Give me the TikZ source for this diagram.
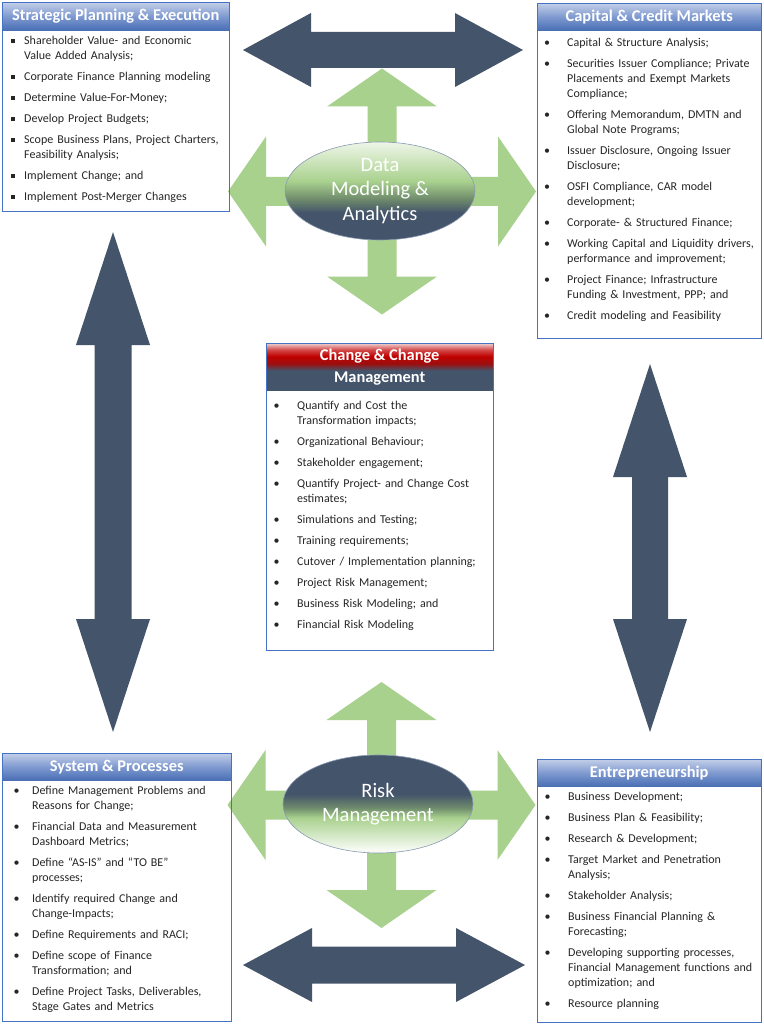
\documentclass[tikz,border=0pt]{standalone}
\usepackage{fontspec}
\setmainfont{Carlito}
\usetikzlibrary{shapes.geometric}
\definecolor{slate}{HTML}{44546A}
\definecolor{lgreen}{HTML}{A9D18E}
\definecolor{bborder}{HTML}{4472C4}
\definecolor{htop}{HTML}{C3CFE8}
\definecolor{hmid}{HTML}{7F9AD0}
\definecolor{hbot}{HTML}{4A6FB5}
\definecolor{txt}{HTML}{262626}
\definecolor{pinktop}{HTML}{F0D2D2}
\definecolor{cred}{HTML}{C00000}
\definecolor{credlt}{HTML}{D24848}
\definecolor{creddk}{HTML}{9A1010}
\definecolor{gtop}{HTML}{EEF6E8}
\definecolor{gbot}{HTML}{F6FAF2}
\definecolor{gmix}{HTML}{6F8C6C}
\definecolor{ellline}{HTML}{8A9AB2}
\pgfdeclareverticalshading{chgshade}{100bp}{color(0bp)=(slate); color(46bp)=(slate); color(53bp)=(creddk); color(61bp)=(cred); color(68bp)=(credlt); color(75bp)=(pinktop); color(100bp)=(pinktop)}
\pgfdeclareverticalshading{dmshade}{100bp}{color(0bp)=(slate); color(39bp)=(slate); color(46bp)=(gmix); color(55bp)=(lgreen); color(75bp)=(gtop); color(100bp)=(gtop)}
\pgfdeclareverticalshading{rmshade}{100bp}{color(0bp)=(gbot); color(27bp)=(gbot); color(43bp)=(lgreen); color(48bp)=(gmix); color(55bp)=(slate); color(100bp)=(slate)}
\newlength\bp
\newlength\ti
\newcommand\setind[2]{\setlength\bp{#1pt}\setlength\ti{#2pt}\parindent=0pt}
\newcommand\bul{\textbullet}
\newcommand\sqbul{\rule[1.8pt]{3.8pt}{3.8pt}}
\newcommand\nl{\hfil\break}
\newcommand\itmz[1]{\noindent\hangindent=\ti\hangafter=1\makebox[\ti][l]{\hspace*{\bp}\bul}\strut#1\par}
\newcommand\itm[1]{\vspace{6pt}\itmz{#1}}
\newcommand\hdbl[6]{%
\fill[darkarr] ({#1-#3},#2) -- ({#1-#3+#4},{#2-#5}) -- ({#1-#3+#4},{#2-#6}) -- ({#1+#3-#4},{#2-#6}) -- ({#1+#3-#4},{#2-#5}) -- ({#1+#3},#2) -- ({#1+#3-#4},{#2+#5}) -- ({#1+#3-#4},{#2+#6}) -- ({#1-#3+#4},{#2+#6}) -- ({#1-#3+#4},{#2+#5}) -- cycle;}
\newcommand\vdbl[6]{%
\fill[darkarr] (#1,{#2-#3}) -- ({#1+#5},{#2-#3+#4}) -- ({#1+#6},{#2-#3+#4}) -- ({#1+#6},{#2+#3-#4}) -- ({#1+#5},{#2+#3-#4}) -- (#1,{#2+#3}) -- ({#1-#5},{#2+#3-#4}) -- ({#1-#6},{#2+#3-#4}) -- ({#1-#6},{#2-#3+#4}) -- ({#1-#5},{#2-#3+#4}) -- cycle;}
\newcommand\crossarr[2]{%
\begin{scope}[shift={(#1,#2)}]
\fill[greenarr] (0,-123) -- (55,-85) -- (14.5,-85) -- (14.5,-14.5) -- (116,-14.5) -- (116,-55) -- (154,0) -- (116,55) -- (116,14.5) -- (14.5,14.5) -- (14.5,85) -- (55,85) -- (0,123) -- (-55,85) -- (-14.5,85) -- (-14.5,14.5) -- (-116,14.5) -- (-116,55) -- (-154,0) -- (-116,-55) -- (-116,-14.5) -- (-14.5,-14.5) -- (-14.5,-85) -- (-55,-85) -- cycle;
\end{scope}}
\begin{document}
\begin{tikzpicture}[x=1pt,y=-1pt,
  darkarr/.style={fill=slate},
  greenarr/.style={fill=lgreen},
  boxframe/.style={draw=bborder,line width=0.8pt,inner sep=0,anchor=north west},
  hdr/.style={top color=htop,bottom color=hbot,middle color=hmid,text=white,font=\bfseries\fontsize{16.4}{19}\selectfont,inner sep=0,anchor=north west},
  body/.style={anchor=north west,inner sep=0,text width=250pt,align=left,text=txt,font=\fontsize{12}{15}\selectfont},
  ell/.style={ellipse,shade,draw=ellline,line width=0.6pt,minimum width=190pt,minimum height=98pt,inner sep=0,text=white,align=center,font=\fontsize{20.5}{24.5}\selectfont}]
\useasboundingbox (0,0) rectangle (763,1024);
\fill[white] (0,0) rectangle (763,1024);
% block arrows
\hdbl{383}{50}{140}{68}{37}{18}
\hdbl{384}{965}{141}{69}{37}{18.5}
\vdbl{113}{482}{250}{113}{37}{18.5}
\vdbl{650}{548}{184}{113}{37}{18}
\crossarr{382}{191.5}
\crossarr{381.5}{805}
% ellipses
\node[ell,shading=dmshade] (dm) at (380,191) {Data\\Modeling \&\\Analytics};
\node[ell,shading=rmshade] (rm) at (378,804) {Risk\\Management};
% top-left
\node[hdr,minimum width=227pt,minimum height=28pt] (tlh) at (2,2) {Strategic Planning \& Execution};
\node[boxframe,minimum width=227pt,minimum height=209pt] (tl) at (2,2) {};
\node[body] (tlb) at ([yshift=-3.5pt]tlh.south west) {\setind{9}{22}\let\bul\sqbul
\itmz{Shareholder Value- and Economic\nl Value Added Analysis;}
\itm{Corporate Finance Planning modeling}
\itm{Determine Value-For-Money;}
\itm{Develop Project Budgets;}
\itm{Scope Business Plans, Project Charters,\nl Feasibility Analysis;}
\itm{Implement Change; and}
\itm{Implement Post-Merger Changes}};
% top-right
\node[hdr,minimum width=224pt,minimum height=27pt] (trh) at (537,3) {Capital \& Credit Markets};
\node[boxframe,minimum width=224pt,minimum height=335pt] (tr) at (537,3) {};
\node[body] (trb) at ([yshift=-5.5pt]trh.south west) {\setind{7}{30}
\itmz{Capital \& Structure Analysis;}
\itm{Securities Issuer Compliance; Private\nl Placements and Exempt Markets\nl Compliance;}
\itm{Offering Memorandum, DMTN and\nl Global Note Programs;}
\itm{Issuer Disclosure, Ongoing Issuer\nl Disclosure;}
\itm{OSFI Compliance, CAR model\nl development;}
\itm{Corporate- \& Structured Finance;}
\itm{Working Capital and Liquidity drivers,\nl performance and improvement;}
\itm{Project Finance; Infrastructure\nl Funding \& Investment, PPP; and}
\itm{Credit modeling and Feasibility}};
% center
\node[hdr,shading=chgshade,minimum width=227pt,minimum height=47pt,align=center,font=\bfseries\fontsize{16.4}{22}\selectfont] (cth) at (266,343) {Change \& Change\\Management};
\node[boxframe,minimum width=227pt,minimum height=307pt] (ct) at (266,343) {};
\node[body] (ctb) at ([yshift=-8.5pt]cth.south west) {\setind{7.5}{31}
\itmz{Quantify and Cost the\nl Transformation impacts;}
\itm{Organizational Behaviour;}
\itm{Stakeholder engagement;}
\itm{Quantify Project- and Change Cost\nl estimates;}
\itm{Simulations and Testing;}
\itm{Training requirements;}
\itm{Cutover / Implementation planning;}
\itm{Project Risk Management;}
\itm{Business Risk Modeling; and}
\itm{Financial Risk Modeling}};
% bottom-left
\node[hdr,minimum width=229pt,minimum height=27pt] (blh) at (2,753) {System \& Processes};
\node[boxframe,minimum width=229pt,minimum height=268pt] (bl) at (2,753) {};
\node[body] (blb) at ([yshift=-3.5pt]blh.south west) {\setind{11.5}{30}
\itmz{Define Management Problems and\nl Reasons for Change;}
\itm{Financial Data and Measurement\nl Dashboard Metrics;}
\itm{Define “AS-IS” and “TO BE”\nl processes;}
\itm{Identify required Change and\nl Change-Impacts;}
\itm{Define Requirements and RACI;}
\itm{Define scope of Finance\nl Transformation; and}
\itm{Define Project Tasks, Deliverables,\nl Stage Gates and Metrics}};
% bottom-right
\node[hdr,minimum width=224pt,minimum height=27pt] (brh) at (537,759) {Entrepreneurship};
\node[boxframe,minimum width=224pt,minimum height=263pt] (br) at (537,759) {};
\node[body] (brb) at ([yshift=-3.5pt]brh.south west) {\setind{7.5}{31}
\itmz{Business Development;}
\itm{Business Plan \& Feasibility;}
\itm{Research \& Development;}
\itm{Target Market and Penetration\nl Analysis;}
\itm{Stakeholder Analysis;}
\itm{Business Financial Planning \&\nl Forecasting;}
\itm{Developing supporting processes,\nl Financial Management functions and\nl optimization; and}
\itm{Resource planning}};
\end{tikzpicture}
\end{document}
